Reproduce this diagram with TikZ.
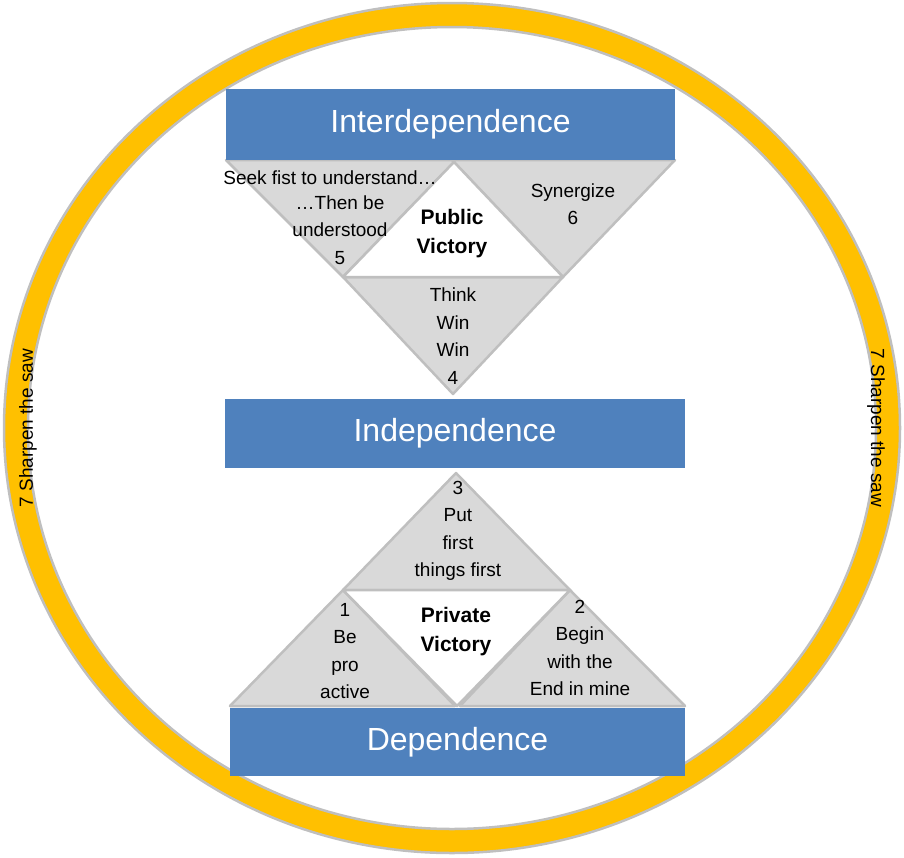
\documentclass[tikz,border=0pt]{standalone}
\usepackage{fontspec}
\setmainfont{Liberation Sans}
\usetikzlibrary{positioning}
\definecolor{ringyellow}{HTML}{FFC000}
\definecolor{boxblue}{HTML}{4F81BD}
\definecolor{trigray}{HTML}{D9D9D9}
\definecolor{edgegray}{HTML}{BFBFBF}

\begin{document}
\begin{tikzpicture}[x=1pt, y=-1pt,
    level/.style={fill=boxblue, draw=none, text=white, font=\fontsize{32}{36}\selectfont},
    tri/.style={fill=trigray, draw=edgegray, line width=2.5pt, line join=round},
    hole/.style={fill=white, draw=edgegray, line width=2.5pt, line join=round},
    habit/.style={align=center, font=\fontsize{19}{27.5}\selectfont},
    victory/.style={align=center, font=\fontsize{21}{29}\selectfont\bfseries},
    saw/.style={font=\fontsize{19}{22}\selectfont}]
    \useasboundingbox (0,0) rectangle (904,857);
    % ring
    \fill[ringyellow, draw=edgegray, line width=2.5pt, even odd rule]
        (452,428) ellipse [x radius=448, y radius=425]
        (452,428) ellipse [x radius=424, y radius=401];
    \node[saw, rotate=90] (sawleft) at (28,428) {7 Sharpen the saw};
    \node[saw, rotate=-90] (sawright) at (876,428) {7 Sharpen the saw};

    % upper triangles
    \draw[tri] (226,160) -- (456,160) -- (343,277) -- cycle;
    \draw[tri] (452,160) -- (675,160) -- (563,277) -- cycle;
    \draw[tri] (343,277) -- (563,277) -- (453,394) -- cycle;
    \draw[hole] (343,277) -- (563,277) -- (454,162) -- cycle;

    % lower triangles
    \draw[tri] (343,590) -- (570,590) -- (456,473) -- cycle;
    \draw[tri] (230,706) -- (455,706) -- (343,590) -- cycle;
    \draw[tri] (460,706) -- (685,706) -- (570,590) -- cycle;
    \draw[hole] (343,590) -- (570,590) -- (457,706) -- cycle;

    % levels
    \node[level, minimum width=449pt, minimum height=71pt] (inter) at (450.5,124) {Interdependence};
    \node[level, minimum width=460pt, minimum height=69pt] (indep) at (455,433) {Independence};
    \node[level, minimum width=455pt, minimum height=68pt] (dep) at (457.5,742) {Dependence};

    % habits
    \node[habit] (seek) at (330,178) {Seek fist to understand\dots};
    \node[habit] (habit5) at (340,230) {\dots Then be\\understood\\5};
    \node[habit] (habit6) at (573,204) {Synergize\\6};
    \node[habit] (habit4) at (453,336) {Think\\Win\\Win\\4};
    \node[habit] (habit3) at (458,531) {3\\Put\\first\\things first};
    \node[habit] (habit1) at (345,651) {1\\Be\\pro\\active};
    \node[habit] (habit2) at (580,648) {2\\Begin\\with the\\End in mine};
    \node[victory] (public) at (452,234) {Public\\Victory};
    \node[victory] (private) at (456,632) {Private\\Victory};
\end{tikzpicture}
\end{document}
